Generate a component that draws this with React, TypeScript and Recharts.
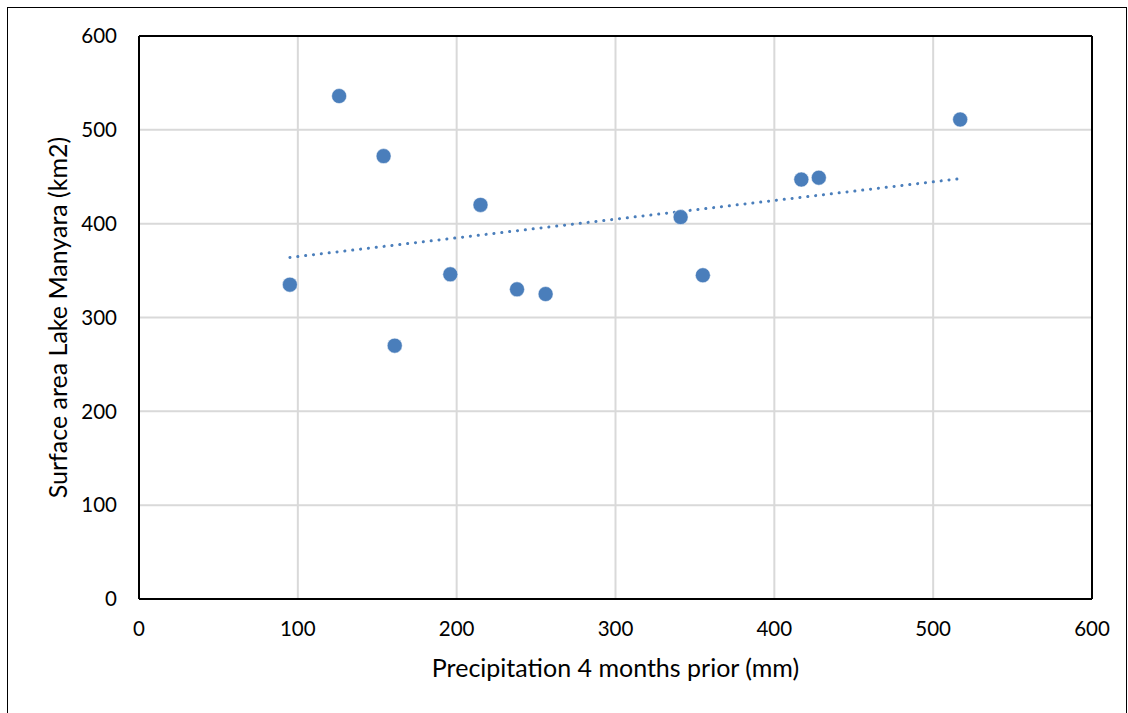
import React from "react";
import {
  ScatterChart,
  Scatter,
  XAxis,
  YAxis,
  CartesianGrid,
  ReferenceLine,
} from "recharts";

// precipitation (mm) vs lake surface area (km2)
const precipitation = [95, 126, 154, 161, 196, 215, 238, 256, 341, 355, 417, 428, 517];
const surfaceArea = [335, 536, 472, 270, 346, 420, 330, 325, 407, 345, 447, 449, 511];

// linear trendline endpoints (Excel-style dotted)
const trendX = [95, 517];
const trendY = [364, 448];

const xTicks = [0, 100, 200, 300, 400, 500, 600];
const yTicks = [0, 100, 200, 300, 400, 500, 600];

const points = precipitation.map((x, i) => ({ x, y: surfaceArea[i] }));
const trend = trendX.map((x, i) => ({ x, y: trendY[i] }));

const BLUE = "#4a7ebb";
const FONT = "Lato, 'Open Sans', sans-serif";

export default function App() {
  return (
    <div
      style={{
        position: "fixed",
        left: 0,
        top: 0,
        width: 1128,
        height: 713,
        overflow: "hidden",
        background: "#fff",
        fontFamily: FONT,
      }}
    >
      <div
        style={{
          position: "absolute",
          left: 7,
          top: 7,
          width: 1120,
          height: 760,
          border: "1.5px solid #000",
          boxSizing: "border-box",
        }}
      />
      <ScatterChart
        width={1128}
        height={713}
        margin={{ top: 36, right: 36, bottom: 0, left: 0 }}
        style={{ position: "absolute", left: 0, top: 0 }}
      >
        <CartesianGrid stroke="#d9d9d9" strokeWidth={2} />
        <XAxis
          type="number"
          dataKey="x"
          domain={[0, 600]}
          ticks={xTicks}
          height={114}
          tickSize={0}
          tickMargin={22}
          axisLine={{ stroke: "#000", strokeWidth: 2 }}
          tick={{ fill: "#000", fontSize: 20.5, fontFamily: FONT }}
          label={{
            value: "Precipitation 4 months prior (mm)",
            position: "insideBottom",
            offset: 36,
            fill: "#000",
            fontSize: 25,
            fontFamily: FONT,
          }}
        />
        <YAxis
          type="number"
          dataKey="y"
          domain={[0, 600]}
          ticks={yTicks}
          width={139}
          tickSize={0}
          tickMargin={22}
          axisLine={{ stroke: "#000", strokeWidth: 2 }}
          tick={{ fill: "#000", fontSize: 20.5, fontFamily: FONT }}
          label={{
            value: "Surface area Lake Manyara (km2)",
            angle: -90,
            position: "insideLeft",
            offset: 58,
            style: { textAnchor: "middle" },
            fill: "#000",
            fontSize: 25,
            fontFamily: FONT,
          }}
        />
        <ReferenceLine y={600} stroke="#000" strokeWidth={2} />
        <ReferenceLine x={600} stroke="#000" strokeWidth={2} />
        <Scatter
          data={trend}
          isAnimationActive={false}
          line={{
            stroke: BLUE,
            strokeWidth: 3,
            strokeDasharray: "0.1 7.8",
            strokeLinecap: "round",
          }}
          shape={() => <g />}
        />
        <Scatter
          data={points}
          fill={BLUE}
          isAnimationActive={false}
          shape={(p: any) => (
            <circle cx={p.cx} cy={p.cy} r={7.5} fill={BLUE} stroke="#fff" strokeWidth={0.5} />
          )}
        />
      </ScatterChart>
    </div>
  );
}
